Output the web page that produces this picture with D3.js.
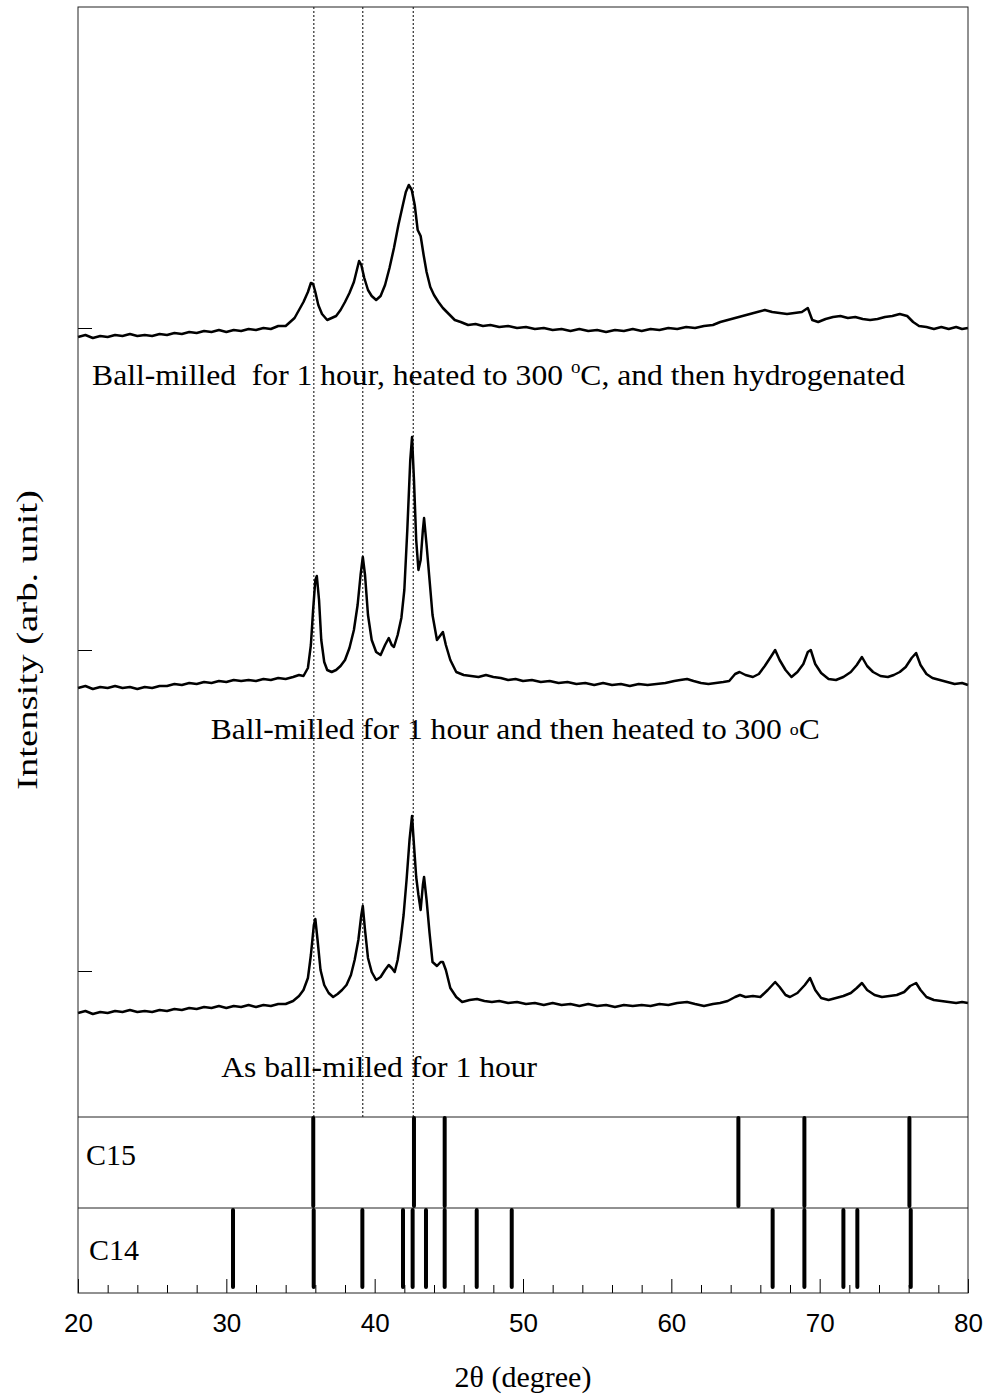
<!DOCTYPE html>
<html>
<head>
    <meta charset="utf-8">
    <script src="https://d3js.org/d3.v7.min.js"></script>
    <style>
        body { margin: 0; background: #fff; }
        text { fill: #000; }
    </style>
</head>
<body>
<script>

    // 2theta (degree) vs intensity (arb. unit)
    var hydrogenated = [[20.0,-9],[20.5,-7],[21.0,-10],[21.5,-8],[22.0,-9],[22.5,-7],[23.0,-8],[23.5,-6],[24.0,-8],[24.5,-7],
        [25.0,-8],[25.5,-6],[26.0,-7],[26.5,-5],[27.0,-6],[27.5,-4],[28.0,-5],[28.5,-3],[29.0,-4],[29.5,-2],
        [30.0,-4],[30.5,-2],[31.0,-3],[31.5,-1],[32.0,-2],[32.5,0],[33.0,-1],[33.5,2],[34.0,2],[34.3,6],
        [34.6,10],[34.9,18],[35.2,26],[35.5,36],[35.7,45],[35.85,44],[36.0,36],[36.2,23],[36.45,14],[36.8,8],
        [37.1,10],[37.4,12],[37.7,18],[38.0,26],[38.3,35],[38.6,46],[38.8,58],[38.95,67],[39.1,63],[39.3,50],
        [39.55,38],[39.8,32],[40.1,28],[40.4,32],[40.7,43],[41.0,60],[41.3,80],[41.6,103],[41.9,123],[42.1,136],
        [42.3,143],[42.5,138],[42.7,123],[42.9,98],[43.1,92],[43.3,73],[43.5,56],[43.75,41],[44.0,33],[44.3,26],
        [44.6,20],[45.0,14],[45.4,8],[45.8,6],[46.3,3],[46.8,4],[47.3,2],[47.8,3],[48.4,1],[49.0,2],
        [49.6,0],[50.2,1],[50.8,-1],[51.4,0],[52.0,-2],[52.6,-1],[53.2,-3],[53.8,-1],[54.4,-3],[55.0,-2],
        [55.6,-4],[56.2,-2],[56.8,-3],[57.4,-1],[58.0,-3],[58.6,-1],[59.2,-2],[59.8,0],[60.4,-1],[61.0,1],
        [61.6,0],[62.2,2],[62.8,3],[63.3,6],[63.8,8],[64.3,10],[64.8,12],[65.3,14],[65.8,16],[66.3,18],
        [66.8,16],[67.3,15],[67.8,14],[68.3,15],[68.8,16],[69.2,20],[69.5,8],[69.9,6],[70.4,9],[70.9,11],
        [71.4,12],[71.9,10],[72.4,11],[72.9,9],[73.4,8],[73.9,9],[74.4,11],[74.9,12],[75.4,14],[75.9,12],
        [76.3,6],[76.7,2],[77.2,1],[77.7,-1],[78.2,1],[78.7,-1],[79.2,1],[79.6,-1],[80.0,0]];

    var heated = [[20.0,-38],[20.5,-36],[21.0,-39],[21.5,-37],[22.0,-38],[22.5,-36],[23.0,-38],[23.5,-37],[24.0,-39],[24.5,-37],
        [25.0,-38],[25.5,-36],[26.0,-36],[26.5,-34],[27.0,-35],[27.5,-33],[28.0,-34],[28.5,-32],[29.0,-33],[29.5,-31],
        [30.0,-32],[30.5,-30],[31.0,-31],[31.5,-30],[32.0,-31],[32.5,-29],[33.0,-30],[33.5,-28],[34.0,-29],[34.5,-27],
        [34.9,-25],[35.2,-26],[35.5,-18],[35.7,5],[35.85,40],[36.0,70],[36.1,74],[36.25,50],[36.4,10],[36.6,-12],
        [36.8,-20],[37.1,-22],[37.4,-20],[37.7,-16],[38.0,-10],[38.3,2],[38.6,20],[38.85,45],[39.05,75],[39.2,93],
        [39.35,75],[39.55,35],[39.8,10],[40.1,-2],[40.4,-5],[40.7,5],[40.95,12],[41.15,5],[41.3,3],[41.55,15],
        [41.8,32],[42.0,60],[42.2,120],[42.4,190],[42.52,213],[42.65,170],[42.8,110],[42.95,80],[43.1,90],[43.25,120],
        [43.33,132],[43.5,105],[43.7,70],[43.9,35],[44.2,10],[44.45,15],[44.6,18],[44.8,5],[45.1,-10],[45.5,-22],
        [46.0,-25],[46.5,-26],[47.0,-27],[47.5,-25],[48.0,-27],[48.5,-28],[49.0,-30],[49.5,-29],[50.0,-31],[50.6,-30],
        [51.2,-32],[51.8,-31],[52.4,-33],[53.0,-32],[53.6,-34],[54.2,-33],[54.8,-35],[55.4,-33],[56.0,-35],[56.6,-34],
        [57.2,-36],[57.8,-34],[58.4,-35],[59.0,-34],[59.6,-33],[60.2,-31],[60.6,-30],[61.06,-29],[61.5,-31],[62.0,-33],
        [62.5,-34],[63.0,-33],[63.5,-32],[63.9,-31],[64.3,-24],[64.6,-22],[65.0,-25],[65.5,-27],[65.9,-24],[66.3,-16],
        [66.7,-7],[67.0,0],[67.3,-10],[67.7,-20],[68.1,-27],[68.5,-22],[68.9,-14],[69.2,-2],[69.4,0],[69.7,-14],
        [70.1,-23],[70.6,-29],[71.1,-30],[71.6,-27],[72.1,-22],[72.5,-15],[72.85,-7],[73.2,-16],[73.6,-22],[74.1,-26],
        [74.6,-27],[75.0,-25],[75.4,-22],[75.8,-17],[76.2,-8],[76.5,-3],[76.8,-15],[77.2,-24],[77.6,-28],[78.1,-30],
        [78.6,-32],[79.1,-34],[79.6,-33],[80.0,-35]];

    var milled = [[20.0,-42],[20.5,-40],[21.0,-43],[21.5,-41],[22.0,-42],[22.5,-40],[23.0,-41],[23.5,-39],[24.0,-41],[24.5,-40],
        [25.0,-41],[25.5,-39],[26.0,-40],[26.5,-38],[27.0,-39],[27.5,-37],[28.0,-38],[28.5,-36],[29.0,-37],[29.5,-35],
        [30.0,-37],[30.5,-35],[31.0,-36],[31.5,-34],[32.0,-36],[32.5,-34],[33.0,-35],[33.5,-33],[34.0,-33],[34.5,-30],
        [34.9,-25],[35.2,-19],[35.5,-7],[35.7,16],[35.9,46],[36.0,52],[36.15,31],[36.35,1],[36.6,-14],[36.9,-22],
        [37.2,-26],[37.5,-23],[37.8,-19],[38.1,-14],[38.4,-4],[38.65,11],[38.9,31],[39.1,56],[39.2,65],[39.35,41],
        [39.55,13],[39.8,-1],[40.1,-9],[40.4,-6],[40.7,1],[40.95,6],[41.15,3],[41.35,-1],[41.55,11],[41.75,31],
        [41.95,56],[42.15,91],[42.35,131],[42.52,155],[42.65,126],[42.8,94],[42.95,76],[43.1,61],[43.25,86],[43.33,94],
        [43.5,71],[43.7,38],[43.9,9],[44.2,5],[44.45,9],[44.6,9],[44.8,1],[45.1,-17],[45.5,-26],[45.9,-31],
        [46.4,-29],[46.9,-28],[47.4,-30],[47.9,-31],[48.4,-30],[49.0,-32],[49.6,-31],[50.2,-33],[50.8,-32],[51.4,-34],
        [52.0,-32],[52.6,-34],[53.2,-33],[53.8,-35],[54.4,-33],[55.0,-35],[55.6,-34],[56.2,-36],[56.8,-34],[57.4,-35],
        [58.0,-34],[58.6,-35],[59.2,-33],[59.8,-34],[60.4,-32],[61.06,-31],[61.6,-33],[62.2,-35],[62.8,-33],[63.28,-32],
        [63.8,-30],[64.3,-26],[64.63,-24],[65.0,-26],[65.5,-25],[66.0,-26],[66.5,-19],[67.0,-11],[67.3,-16],[67.7,-24],
        [68.0,-26],[68.5,-22],[69.0,-14],[69.35,-7],[69.7,-19],[70.1,-27],[70.6,-29],[71.1,-27],[71.6,-25],[72.1,-22],
        [72.5,-17],[72.85,-12],[73.2,-19],[73.7,-24],[74.2,-26],[74.7,-25],[75.2,-24],[75.7,-21],[76.1,-15],[76.5,-12],
        [76.8,-19],[77.2,-26],[77.7,-29],[78.2,-30],[78.7,-31],[79.2,-32],[79.6,-31],[80.0,-32]];

    var seriesNames = ['As ball-milled for 1 hour', 'heated', 'hydrogenated'];
    var offsets = [322, 643, 965];

    var c15Peaks = [35.86, 42.65, 44.72, 64.52, 68.97, 76.05];
    var c14Peaks = [30.45, 35.89, 39.17, 41.91, 42.56, 43.46, 44.72, 46.88, 49.24, 66.83, 68.97, 71.6, 72.54, 76.14];
    var guideLines = [35.9, 39.2, 42.6];

    var xMajor = [20, 30, 40, 50, 60, 70, 80];
    var xMinor = [22, 24, 26, 28, 32, 34, 36, 38, 42, 44, 46, 48, 52, 54, 56, 58, 62, 64, 66, 68, 72, 74, 76, 78];

    var W = 989, H = 1395;
    var margin = {top: 7, right: 21, bottom: 102, left: 78};
    var width = W - margin.left - margin.right;
    var height = H - margin.top - margin.bottom;
    var serif = '"Liberation Serif", "Times New Roman", serif';
    var sans = '"Liberation Sans", Arial, sans-serif';

    var x = d3.scaleLinear().domain([20, 80]).range([0, width]);
    var y = d3.scaleLinear().domain([0, height]).range([height, 0]);

    // pattern panel bounds (in y units)
    var c15Top = 176, c14Top = 85;

    var svg = d3.select('body').append('svg')
        .attr('width', W)
        .attr('height', H);

    var g = svg.append('g')
        .attr('transform', 'translate(' + margin.left + ',' + margin.top + ')');

    // guide lines
    g.selectAll('.guide').data(guideLines)
        .enter().append('line')
        .attr('x1', function(d) { return x(d); })
        .attr('x2', function(d) { return x(d); })
        .attr('y1', 0)
        .attr('y2', y(c15Top))
        .attr('stroke', '#000')
        .attr('stroke-width', 1)
        .attr('stroke-dasharray', '2,2');

    // spectra
    var line = d3.line()
        .x(function(d) { return x(d[0]); })
        .y(function(d) { return y(d[1] + d.off); });

    [milled, heated, hydrogenated].forEach(function(s, i) {
        var pts = s.map(function(p) { var q = [p[0], p[1]]; q.off = offsets[i]; return q; });
        g.append('path')
            .datum(pts)
            .attr('fill', 'none')
            .attr('stroke', '#000')
            .attr('stroke-width', 2.5)
            .attr('stroke-linejoin', 'round')
            .attr('d', line);
    });

    // pattern panel separators
    g.selectAll('.sep').data([c15Top, c14Top])
        .enter().append('line')
        .attr('x1', 0).attr('x2', width)
        .attr('y1', function(d) { return y(d); })
        .attr('y2', function(d) { return y(d); })
        .attr('stroke', '#222')
        .attr('stroke-width', 1);

    g.selectAll('.c15').data(c15Peaks)
        .enter().append('line')
        .attr('x1', function(d) { return x(d); })
        .attr('x2', function(d) { return x(d); })
        .attr('y1', y(c15Top - 1))
        .attr('y2', y(c14Top + 2))
        .attr('stroke', '#000')
        .attr('stroke-width', 4)
        .attr('stroke-linecap', 'round');

    g.selectAll('.c14').data(c14Peaks)
        .enter().append('line')
        .attr('x1', function(d) { return x(d); })
        .attr('x2', function(d) { return x(d); })
        .attr('y1', y(c14Top - 2))
        .attr('y2', y(6))
        .attr('stroke', '#000')
        .attr('stroke-width', 4)
        .attr('stroke-linecap', 'round');

    // axes
    var gx = g.append('g')
        .attr('transform', 'translate(0,' + height + ')')
        .call(d3.axisBottom(x).tickValues(xMajor).tickSize(-14).tickSizeOuter(0).tickPadding(21));
    gx.selectAll('text').attr('font-family', sans).attr('font-size', 26).attr('fill', '#000');
    gx.selectAll('line').attr('stroke', '#000');

    var gxm = g.append('g')
        .attr('transform', 'translate(0,' + height + ')')
        .call(d3.axisBottom(x).tickValues(xMinor).tickSize(-8).tickSizeOuter(0).tickFormat(''));
    gxm.selectAll('line').attr('stroke', '#000');

    var gy = g.append('g')
        .call(d3.axisLeft(y).tickValues(offsets).tickSize(-14).tickSizeOuter(0).tickFormat(''));
    gy.selectAll('line').attr('stroke', '#000');
    gx.select('.domain').remove();
    gxm.select('.domain').remove();
    gy.select('.domain').remove();

    g.append('rect')
        .attr('width', width)
        .attr('height', height)
        .attr('fill', 'none')
        .attr('stroke', '#222')
        .attr('stroke-width', 1);

    // labels
    var t1 = g.append('text')
        .attr('x', x(20.95)).attr('y', y(height - 378))
        .attr('font-family', serif).attr('font-size', 30)
        .attr('textLength', 813).attr('lengthAdjust', 'spacingAndGlyphs');
    t1.append('tspan').text('Ball-milled\u00a0 for 1 hour, heated to 300 ');
    t1.append('tspan').attr('font-size', 18).attr('dy', -12).text('o');
    t1.append('tspan').attr('dy', 12).text('C, and then hydrogenated');

    var t2 = g.append('text')
        .attr('x', x(28.95)).attr('y', y(height - 732))
        .attr('font-family', serif).attr('font-size', 30)
        .attr('textLength', 609).attr('lengthAdjust', 'spacingAndGlyphs');
    t2.append('tspan').text('Ball-milled for 1 hour and then heated to 300 ');
    t2.append('tspan').attr('font-size', 17).attr('dy', -4).text('o');
    t2.append('tspan').attr('dy', 4).text('C');

    g.append('text')
        .attr('x', x(29.65)).attr('y', y(height - 1070))
        .attr('font-family', serif).attr('font-size', 30)
        .attr('textLength', 316).attr('lengthAdjust', 'spacingAndGlyphs')
        .text(seriesNames[0]);

    g.append('text')
        .attr('x', 8).attr('y', y(c14Top + 43))
        .attr('font-family', serif).attr('font-size', 30)
        .text('C15');

    g.append('text')
        .attr('x', 11).attr('y', y(c14Top - 52))
        .attr('font-family', serif).attr('font-size', 30)
        .text('C14');

    svg.append('text')
        .attr('x', margin.left + width / 2).attr('y', 1387)
        .attr('text-anchor', 'middle')
        .attr('font-family', serif).attr('font-size', 30)
        .text('2\u03b8 (degree)');

    svg.append('text')
        .attr('transform', 'translate(37,640) rotate(-90)')
        .attr('text-anchor', 'middle')
        .attr('font-family', serif).attr('font-size', 30)
        .attr('textLength', 300).attr('lengthAdjust', 'spacingAndGlyphs')
        .text('Intensity (arb. unit)');

</script>
</body>
</html>
